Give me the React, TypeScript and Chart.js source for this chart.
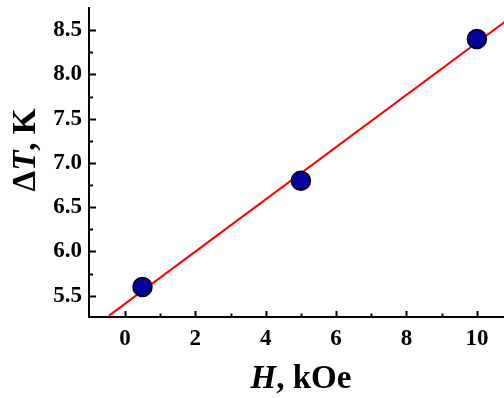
import React, { useEffect, useRef } from "react";
import { Chart, registerables } from "chart.js";
Chart.register(...registerables);

const H_VALUES = [0.5, 5, 10];
const DT_VALUES = [5.6, 6.8, 8.4];
const FIT_H = [-0.45, 11];
const FIT_DT = [5.275, 8.655];
const X_TICKS = [0, 2, 4, 6, 8, 10];
const X_MINOR = [1, 3, 5, 7, 9];
const Y_TICKS = [5.5, 6.0, 6.5, 7.0, 7.5, 8.0, 8.5];
const Y_MINOR = [5.75, 6.25, 6.75, 7.25, 7.75, 8.25];
const X_RANGE = [-1.02, 10.77];
const Y_RANGE = [5.26, 8.75];

const FONT = '"Liberation Serif", "Times New Roman", serif';

const inwardTicks = {
  id: "inwardTicks",
  afterDraw(chart: any) {
    const { ctx, chartArea, scales } = chart;
    const xs = scales.x;
    const ys = scales.y;
    ctx.save();
    ctx.strokeStyle = "#000";
    ctx.lineWidth = 2;
    const drawX = (vals: number[], len: number) => {
      vals.forEach((v) => {
        const px = Math.round(xs.getPixelForValue(v)) + 0.5;
        ctx.beginPath();
        ctx.moveTo(px, chartArea.bottom);
        ctx.lineTo(px, chartArea.bottom - len);
        ctx.stroke();
      });
    };
    const drawY = (vals: number[], len: number) => {
      vals.forEach((v) => {
        const py = Math.round(ys.getPixelForValue(v)) + 0.5;
        ctx.beginPath();
        ctx.moveTo(chartArea.left, py);
        ctx.lineTo(chartArea.left + len, py);
        ctx.stroke();
      });
    };
    drawX(X_TICKS, 6);
    drawX(X_MINOR, 3.5);
    drawY(Y_TICKS, 7);
    drawY(Y_MINOR, 4);
    ctx.restore();
  },
};

const axisTitles = {
  id: "axisTitles",
  afterDraw(chart: any) {
    const { ctx } = chart;
    ctx.save();
    ctx.fillStyle = "#000";
    ctx.textBaseline = "alphabetic";
    const size = 33;
    const bold = `bold ${size}px ${FONT}`;
    const boldItalic = `italic bold ${size}px ${FONT}`;
    const xParts = [
      { t: "H", f: boldItalic },
      { t: ", kOe", f: bold },
    ];
    let w = 0;
    xParts.forEach((p) => {
      ctx.font = p.f;
      w += ctx.measureText(p.t).width;
    });
    let x = 301 - w / 2;
    xParts.forEach((p) => {
      ctx.font = p.f;
      ctx.fillText(p.t, x, 388);
      x += ctx.measureText(p.t).width;
    });
    const yParts = [
      { t: "\u0394", f: bold },
      { t: "T", f: boldItalic },
      { t: ", K", f: bold },
    ];
    w = 0;
    yParts.forEach((p) => {
      ctx.font = p.f;
      w += ctx.measureText(p.t).width;
    });
    ctx.translate(35, 150);
    ctx.rotate(-Math.PI / 2);
    x = -w / 2;
    yParts.forEach((p) => {
      ctx.font = p.f;
      ctx.fillText(p.t, x, 0);
      x += ctx.measureText(p.t).width;
    });
    ctx.restore();
  },
};

export default function App() {
  const ref = useRef<HTMLCanvasElement>(null);
  useEffect(() => {
    if (!ref.current) return;
    const chart = new Chart(ref.current, {
      type: "scatter",
      data: {
        datasets: [
          {
            type: "line",
            data: FIT_H.map((h, i) => ({ x: h, y: FIT_DT[i] })),
            borderColor: "#ff0000",
            borderWidth: 2,
            pointRadius: 0,
            fill: false,
            order: 2,
          } as any,
          {
            data: H_VALUES.map((h, i) => ({ x: h, y: DT_VALUES[i] })),
            backgroundColor: "#00009c",
            borderColor: "#000",
            borderWidth: 1.5,
            pointRadius: 9.5,
            order: 1,
          },
        ],
      },
      options: {
        responsive: false,
        animation: false,
        clip: false as any,
        layout: { autoPadding: false, padding: { top: 8, right: 0, left: 0, bottom: 0 } },
        plugins: {
          legend: { display: false },
          tooltip: { enabled: false },
        },
        scales: {
          x: {
            type: "linear",
            min: X_RANGE[0],
            max: X_RANGE[1],
            afterBuildTicks: (s: any) => {
              s.ticks = X_TICKS.map((v) => ({ value: v }));
            },
            afterFit: (s: any) => {
              s.height = 81;
              s.paddingLeft = 0;
              s.paddingRight = 0;
            },
            grid: { display: false, drawTicks: false },
            border: { display: true, color: "#000", width: 2 },
            ticks: {
              color: "#000",
              padding: 8,
              font: { family: FONT, size: 23, weight: "bold" },
              callback: (v: any) => String(v),
            },
          },
          y: {
            type: "linear",
            min: Y_RANGE[0],
            max: Y_RANGE[1],
            afterBuildTicks: (s: any) => {
              s.ticks = Y_TICKS.map((v) => ({ value: v }));
            },
            afterFit: (s: any) => {
              s.width = 89;
              s.paddingTop = 0;
              s.paddingBottom = 0;
            },
            grid: { display: false, drawTicks: false },
            border: { display: true, color: "#000", width: 2 },
            ticks: {
              color: "#000",
              padding: 7,
              font: { family: FONT, size: 23, weight: "bold" },
              callback: (v: any) => Number(v).toFixed(1),
            },
          },
        },
      },
      plugins: [inwardTicks, axisTitles],
    });
    return () => chart.destroy();
  }, []);
  return (
    <div style={{ position: "fixed", left: 0, top: 0, width: 504, height: 398, background: "#fff" }}>
      <canvas ref={ref} width={504} height={398} style={{ display: "block", width: 504, height: 398 }} />
    </div>
  );
}
